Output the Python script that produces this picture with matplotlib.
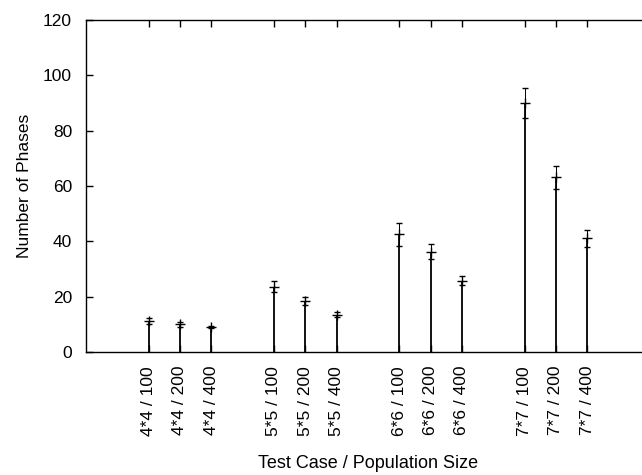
import matplotlib
matplotlib.use("Agg")
import matplotlib.pyplot as plt

plt.rcParams['font.family'] = ['Liberation Sans', 'DejaVu Sans']

labels = ["4*4 / 100", "4*4 / 200", "4*4 / 400",
          "5*5 / 100", "5*5 / 200", "5*5 / 400",
          "6*6 / 100", "6*6 / 200", "6*6 / 400",
          "7*7 / 100", "7*7 / 200", "7*7 / 400"]
positions = [1, 2, 3, 5, 6, 7, 9, 10, 11, 13, 14, 15]
means = [11.3, 10.0, 9.0, 23.6, 18.4, 13.4, 42.5, 36.3, 25.7, 90.0, 63.2, 41.1]
errors = [1.1, 0.8, 0.5, 2.0, 1.4, 0.9, 4.3, 2.8, 1.6, 5.3, 4.2, 3.0]
yticks = [0, 20, 40, 60, 80, 100, 120]

W, H = 642, 475
fig = plt.figure(figsize=(W / 100, H / 100), dpi=100)
ax = fig.add_axes([86 / W, (H - 352) / H, 564 / W, 332 / H])

ax.vlines(positions, 0, means, colors='black', linewidth=1.3)
ax.errorbar(positions, means, yerr=errors, fmt='+', color='black',
            markersize=7, markeredgewidth=1.0, elinewidth=0.7,
            capsize=2.5, capthick=0.8)

ax.set_xlim(-1, 17)
ax.set_ylim(0, 120)
ax.set_yticks(yticks)
ax.set_xticks(positions)
ax.set_xticklabels(labels, rotation=90, fontsize=12.5)
ax.tick_params(axis='y', labelsize=12.5)
ax.tick_params(direction='in', top=True, right=True, length=5, width=1.0, pad=10)
for s in ax.spines.values():
    s.set_linewidth(1.0)

ax.set_xlabel("Test Case / Population Size", fontsize=13, labelpad=14)
ax.set_ylabel("Number of Phases", fontsize=12.5, labelpad=8)

fig.savefig("out.png", dpi=100)
